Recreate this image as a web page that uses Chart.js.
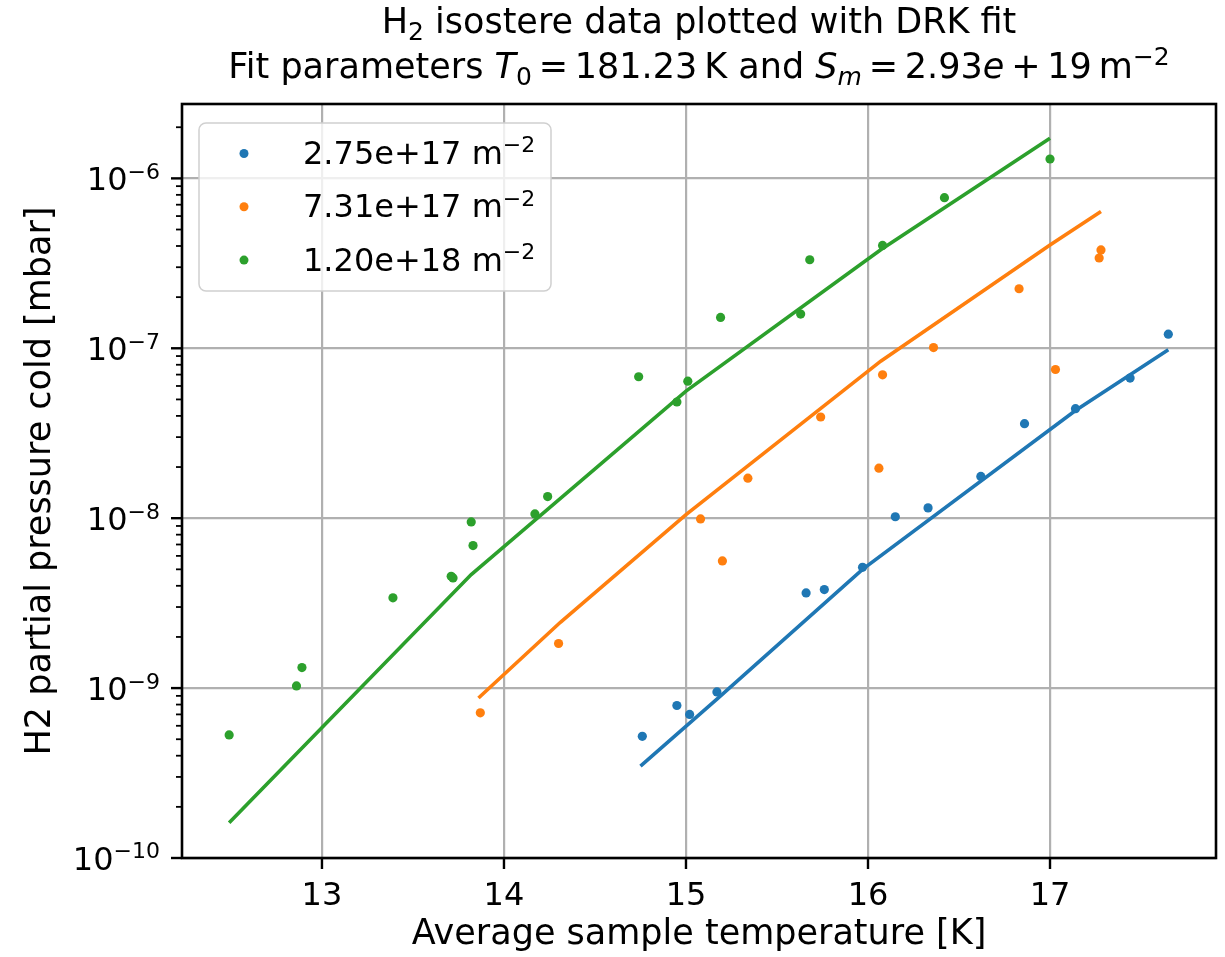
<!DOCTYPE html>
<html>
<head>
<meta charset="utf-8">
<script src="https://cdn.jsdelivr.net/npm/chart.js@4.4.1/dist/chart.umd.min.js"></script>
<style>
  html, body { margin: 0; padding: 0; background: #fff; }
  #wrap { width: 1225px; height: 957px; }
</style>
</head>
<body>
<div id="wrap"><canvas id="grafico" width="1225" height="957"></canvas></div>
<script>
// Dados: temperatura [K] e pressão parcial [mbar]
const rotulosSeries = ['2.75e+17', '7.31e+17', '1.20e+18'];
const cores = ['#1f77b4', '#ff7f0e', '#2ca02c'];

// 2.75e+17 m^-2
const tempAzul = [14.76, 14.95, 15.02, 15.17, 15.66, 15.76, 15.97, 16.15, 16.33, 16.62, 16.86, 17.14, 17.44, 17.65];
const pressAzul = [5.2e-10, 7.9e-10, 7.0e-10, 9.5e-10, 3.63e-9, 3.8e-9, 5.14e-9, 1.02e-8, 1.15e-8, 1.76e-8, 3.6e-8, 4.41e-8, 6.68e-8, 1.21e-7];
const ajusteTempAzul = [14.75, 15.17, 15.97, 17.14, 17.65];
const ajustePressAzul = [3.47e-10, 8.6e-10, 5.0e-9, 4.3e-8, 9.8e-8];

// 7.31e+17 m^-2
const tempLaranja = [13.87, 14.30, 15.08, 15.20, 15.34, 15.74, 16.06, 16.08, 16.36, 16.83, 17.03, 17.27, 17.28];
const pressLaranja = [7.15e-10, 1.83e-9, 9.9e-9, 5.6e-9, 1.72e-8, 3.94e-8, 1.97e-8, 6.98e-8, 1.01e-7, 2.24e-7, 7.5e-8, 3.4e-7, 3.79e-7];
const ajusteTempLaranja = [13.86, 14.31, 15.0, 16.07, 17.0, 17.28];
const ajustePressLaranja = [8.75e-10, 2.44e-9, 1.05e-8, 8.4e-8, 4.05e-7, 6.38e-7];

// 1.20e+18 m^-2
const tempVerde = [12.49, 12.86, 12.89, 13.39, 13.71, 13.72, 13.83, 13.82, 14.17, 14.24, 14.74, 14.95, 15.01, 15.19, 15.63, 15.68, 16.08, 16.42, 17.0];
const pressVerde = [5.3e-10, 1.03e-9, 1.32e-9, 3.4e-9, 4.55e-9, 4.45e-9, 6.9e-9, 9.5e-9, 1.06e-8, 1.34e-8, 6.8e-8, 4.83e-8, 6.4e-8, 1.52e-7, 1.59e-7, 3.32e-7, 4.03e-7, 7.7e-7, 1.30e-6];
const ajusteTempVerde = [12.49, 13.82, 14.0, 15.0, 16.07, 17.0];
const ajustePressVerde = [1.61e-10, 4.66e-9, 6.8e-9, 5.6e-8, 3.8e-7, 1.72e-6];

// Marcas dos eixos
const xTicks = [13, 14, 15, 16, 17];
const yDecadas = [-10, -9, -8, -7, -6];

const FONTE = '"DejaVu Sans"';
const TAM_TITULO = 35;
const TAM_EIXO = 35;
const TAM_TICK = 32;
const TAM_LEGENDA = 32;

const ehDecada = v => Math.abs(Math.log10(v) - Math.round(Math.log10(v))) < 1e-6;

// ticks do eixo y: décadas + menores (2..9)
const yTicks = [];
yDecadas.forEach(d => {
  yTicks.push(Math.pow(10, d));
  for (let k = 2; k <= 9; k++) {
    const v = k * Math.pow(10, d);
    if (v <= 2.74e-6) yTicks.push(v);
  }
});

const pontos = (xs, ys) => xs.map((x, i) => ({ x, y: ys[i] }));

function fonte(p, tam) {
  return (p.it ? 'italic ' : '') + Math.round(tam * (p.s || 1)) + 'px ' + FONTE;
}

// largura de uma parte (texto ou espaço matemático)
function largura(ctx, p, tam) {
  if (p.g) return p.g * tam;
  ctx.font = fonte(p, tam);
  return ctx.measureText(p.t).width;
}

// Texto com partes em itálico / sub / sobrescrito
function textoRico(ctx, partes, x0, base, tam, alinhar) {
  const total = partes.reduce((s, p) => s + largura(ctx, p, tam), 0);
  let x = alinhar === 'left' ? x0 : alinhar === 'right' ? x0 - total : x0 - total / 2;
  ctx.textBaseline = 'alphabetic';
  ctx.textAlign = 'left';
  partes.forEach(p => {
    if (!p.g) {
      ctx.font = fonte(p, tam);
      ctx.fillText(p.t, x, base + (p.dy || 0) * tam);
    }
    x += largura(ctx, p, tam);
  });
}

const SUB = { s: 0.7, dy: 0.2 };
const SUP = { s: 0.7, dy: -0.36 };
const ESP = { g: 0.195 };

const extras = {
  id: 'extras',
  afterDraw(chart) {
    const { ctx, chartArea: a, scales: { x, y } } = chart;
    ctx.save();
    ctx.strokeStyle = '#000';
    ctx.fillStyle = '#000';

    // marcas do eixo x
    ctx.lineWidth = 2.4;
    xTicks.forEach(v => {
      const px = x.getPixelForValue(v);
      ctx.beginPath(); ctx.moveTo(px, a.bottom); ctx.lineTo(px, a.bottom + 11); ctx.stroke();
    });
    // marcas e rótulos do eixo y
    yTicks.forEach(v => {
      const py = y.getPixelForValue(v);
      const maior = ehDecada(v);
      ctx.lineWidth = maior ? 2.4 : 1.8;
      ctx.beginPath(); ctx.moveTo(a.left - (maior ? 11 : 6), py); ctx.lineTo(a.left, py); ctx.stroke();
      if (maior) {
        const exp = Math.round(Math.log10(v));
        textoRico(ctx, [{ t: '10' }, Object.assign({ t: '−' + Math.abs(exp) }, SUP)], a.left - 22, py + 12, TAM_TICK, 'right');
      }
    });

    // moldura
    ctx.lineWidth = 2.6;
    ctx.strokeRect(a.left, a.top, a.right - a.left, a.bottom - a.top);

    // legenda
    const lx = 199, ly = 123, lw = 352, lh = 168;
    ctx.beginPath();
    ctx.roundRect(lx, ly, lw, lh, 7);
    ctx.fillStyle = 'rgba(255,255,255,0.8)';
    ctx.fill();
    ctx.strokeStyle = '#d0d0d0';
    ctx.lineWidth = 1.5;
    ctx.stroke();
    rotulosSeries.forEach((r, i) => {
      const cy = 153.5 + i * 53.3;
      ctx.fillStyle = cores[i];
      ctx.beginPath(); ctx.arc(244, cy, 4.5, 0, Math.PI * 2); ctx.fill();
      ctx.fillStyle = '#000';
      textoRico(ctx, [{ t: r + ' m' }, Object.assign({ t: '−2' }, SUP)], 303, cy + 10.5, TAM_LEGENDA, 'left');
    });

    // título
    const cx = (a.left + a.right) / 2;
    textoRico(ctx, [{ t: 'H' }, Object.assign({ t: '2' }, SUB), { t: ' isostere data plotted with DRK fit' }], cx, 33, TAM_TITULO);
    textoRico(ctx, [
      { t: 'Fit parameters ' }, { t: 'T', it: true }, Object.assign({ t: '0' }, SUB),
      ESP, { t: '=' }, ESP, { t: '181.23\u2009K and ' }, { t: 'S', it: true }, Object.assign({ t: 'm', it: true }, SUB),
      ESP, { t: '=' }, ESP, { t: '2.93' }, { t: 'e', it: true }, ESP, { t: '+' }, ESP, { t: '19\u2009m' }, Object.assign({ t: '−2' }, SUP)
    ], cx, 78, TAM_TITULO);
    ctx.restore();
  }
};

const ctx = document.getElementById('grafico').getContext('2d');
new Chart(ctx, {
  type: 'scatter',
  data: {
    datasets: [
      { data: pontos(ajusteTempAzul, ajustePressAzul), showLine: true, borderColor: cores[0], borderWidth: 3.6, pointRadius: 0, order: 0 },
      { data: pontos(ajusteTempLaranja, ajustePressLaranja), showLine: true, borderColor: cores[1], borderWidth: 3.6, pointRadius: 0, order: 0 },
      { data: pontos(ajusteTempVerde, ajustePressVerde), showLine: true, borderColor: cores[2], borderWidth: 3.6, pointRadius: 0, order: 0 },
      { label: rotulosSeries[0], data: pontos(tempAzul, pressAzul), backgroundColor: cores[0], pointRadius: 4.6, borderWidth: 0, order: 1 },
      { label: rotulosSeries[1], data: pontos(tempLaranja, pressLaranja), backgroundColor: cores[1], pointRadius: 4.6, borderWidth: 0, order: 1 },
      { label: rotulosSeries[2], data: pontos(tempVerde, pressVerde), backgroundColor: cores[2], pointRadius: 4.6, borderWidth: 0, order: 1 }
    ]
  },
  options: {
    responsive: false,
    animation: false,
    devicePixelRatio: 1,
    events: [],
    layout: { padding: { top: 104, right: 9, bottom: 0, left: 0 } },
    plugins: { legend: { display: false }, tooltip: { enabled: false }, title: { display: false } },
    scales: {
      x: {
        type: 'linear',
        min: 12.231,
        max: 17.912,
        afterBuildTicks: s => { s.ticks = xTicks.map(v => ({ value: v })); },
        afterFit: s => { s.height = 99; },
        ticks: { autoSkip: false, padding: 19, color: '#000', font: { family: 'DejaVu Sans', size: TAM_TICK } },
        grid: { color: '#b0b0b0', lineWidth: 2.2, drawTicks: false },
        border: { display: false },
        title: { display: true, text: 'Average sample temperature [K]', color: '#000', font: { family: 'DejaVu Sans', size: TAM_EIXO }, padding: { top: 0, bottom: 1 } }
      },
      y: {
        type: 'logarithmic',
        min: 1e-10,
        max: 2.74e-6,
        afterBuildTicks: s => { s.ticks = yTicks.map(v => ({ value: v, major: ehDecada(v) })); },
        afterFit: s => { s.width = 182; },
        // rótulos desenhados no plugin (com expoente)
        ticks: { autoSkip: false, padding: 22, font: { family: 'DejaVu Sans', size: TAM_TICK }, callback: () => '' },
        grid: { color: c => (c.tick && ehDecada(c.tick.value)) ? '#b0b0b0' : 'rgba(0,0,0,0)', lineWidth: 2.2, drawTicks: false },
        border: { display: false },
        title: { display: true, text: 'H2 partial pressure cold [mbar]', color: '#000', font: { family: 'DejaVu Sans', size: TAM_EIXO }, padding: { top: 20, bottom: 0 } }
      }
    }
  },
  plugins: [extras]
});
</script>
</body>
</html>
